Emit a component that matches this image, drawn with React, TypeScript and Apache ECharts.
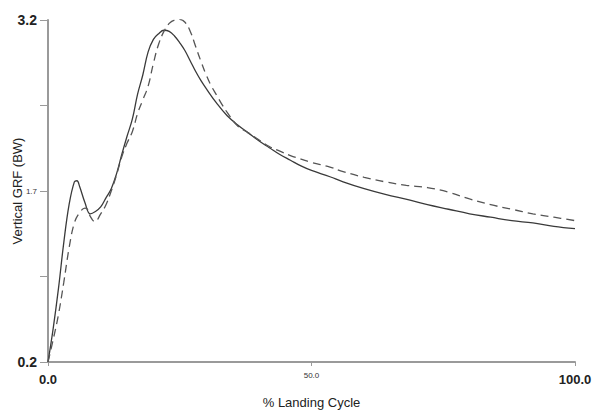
import React, { useEffect, useRef } from "react";
import * as echarts from "echarts";

const solidX = [0, 1, 2, 3, 4, 5, 5.5, 6, 7, 8, 9, 10, 11, 12, 13, 14, 15, 16, 17, 18, 19, 20, 21, 22, 23, 24, 25, 26, 27, 28, 29, 30, 32, 34, 36, 38, 40, 42, 44, 46, 48, 50, 53.5, 56, 60, 64, 68.7, 72, 76, 80, 84, 88, 92, 96, 100];
const solidY = [0.2, 0.5, 0.85, 1.25, 1.58, 1.78, 1.79, 1.74, 1.6, 1.5, 1.52, 1.56, 1.64, 1.72, 1.85, 2.02, 2.18, 2.33, 2.55, 2.72, 2.92, 3.03, 3.08, 3.11, 3.1, 3.06, 3.0, 2.93, 2.84, 2.75, 2.67, 2.6, 2.47, 2.36, 2.28, 2.21, 2.14, 2.08, 2.02, 1.97, 1.92, 1.88, 1.825, 1.78, 1.72, 1.67, 1.62, 1.58, 1.54, 1.5, 1.47, 1.44, 1.42, 1.39, 1.37];

const dashedX = [0, 1, 2, 3, 4, 5, 6, 7, 7.5, 8, 8.9, 10, 11, 12, 13, 14, 15, 16, 17, 18, 19, 20, 21, 22, 23, 24, 25, 26, 27, 28, 29, 30, 31, 32, 33, 34, 36, 38, 40, 42, 44, 46, 48, 50, 53.5, 56, 60, 64, 68, 72, 76, 80, 84, 88, 92, 96, 100];
const dashedY = [0.2, 0.4, 0.62, 0.9, 1.2, 1.42, 1.51, 1.55, 1.54, 1.48, 1.43, 1.5, 1.58, 1.7, 1.84, 2.0, 2.12, 2.22, 2.38, 2.5, 2.62, 2.82, 2.99, 3.1, 3.17, 3.2, 3.205, 3.18, 3.1, 2.97, 2.84, 2.72, 2.62, 2.54, 2.46, 2.39, 2.27, 2.21, 2.15, 2.09, 2.05, 2.01, 1.98, 1.95, 1.91, 1.87, 1.82, 1.78, 1.75, 1.73, 1.69, 1.63, 1.58, 1.54, 1.5, 1.47, 1.44];

const yTicks = [0.2, 0.95, 1.7, 2.45, 3.2];
const yLabels = [0.2, 1.7, 3.2];
const yBigLabels = [0.2, 3.2];
const xBigLabels = [0, 100];

const xName = "% Landing Cycle";
const yName = "Vertical GRF (BW)";

export default function App() {
  const ref = useRef<HTMLDivElement>(null);
  useEffect(() => {
    if (!ref.current) return;
    const chart = echarts.init(ref.current, null, { renderer: "svg" });
    const font = "Liberation Sans, Arial, sans-serif";
    const axisColor = "#9a9a9a";
    chart.setOption({
      animation: false,
      backgroundColor: "#ffffff",
      textStyle: { fontFamily: font },
      grid: { left: 48, right: 17, top: 20, bottom: 49, containLabel: false, outerBoundsMode: "none" },
      xAxis: {
        type: "value",
        min: 0,
        max: 100,
        interval: 50,
        name: xName,
        nameLocation: "middle",
        nameGap: 34,
        nameMoveOverlap: false,
        nameTextStyle: { fontSize: 13, color: "#222", fontFamily: font },
        axisLine: { show: true, lineStyle: { color: axisColor, width: 2 } },
        axisTick: { show: true, length: 4, lineStyle: { color: axisColor, width: 1 } },
        splitLine: { show: false },
        axisLabel: {
          margin: 11,
          color: "#222",
          fontFamily: font,
          formatter: (v: number) =>
            xBigLabels.includes(v) ? `{big|${v.toFixed(1)}}` : `{small|${v.toFixed(1)}}`,
          rich: {
            big: { fontSize: 13, fontWeight: "bold", color: "#222", fontFamily: font },
            small: { fontSize: 8, color: "#333", fontFamily: font, padding: [-2, 0, 0, 0] },
          },
        },
      },
      yAxis: {
        type: "value",
        min: 0.2,
        max: 3.2,
        name: yName,
        nameLocation: "middle",
        nameGap: 24,
        nameMoveOverlap: false,
        nameRotate: 90,
        nameTextStyle: { fontSize: 13, color: "#222", fontFamily: font },
        axisLine: { show: true, lineStyle: { color: axisColor, width: 2 } },
        axisTick: { show: true, length: 8, customValues: yTicks, lineStyle: { color: axisColor, width: 1 } },
        splitLine: { show: false },
        axisLabel: {
          margin: 11,
          customValues: yLabels,
          color: "#222",
          fontFamily: font,
          formatter: (v: number) => {
            const s = v.toFixed(1);
            return yBigLabels.some((b) => Math.abs(b - v) < 1e-6) ? `{big|${s}}` : `{small|${s}}`;
          },
          rich: {
            big: { fontSize: 14, fontWeight: "bold", color: "#222", fontFamily: font },
            small: { fontSize: 8, color: "#333", fontFamily: font },
          },
        },
      },
      series: [
        {
          type: "line",
          data: solidX.map((x, i) => [x, solidY[i]]),
          smooth: 0.4,
          showSymbol: false,
          lineStyle: { color: "#3a3a3a", width: 1.3, type: "solid" },
        },
        {
          type: "line",
          data: dashedX.map((x, i) => [x, dashedY[i]]),
          smooth: 0.4,
          showSymbol: false,
          lineStyle: { color: "#555555", width: 1.3, type: [8, 5] },
        },
      ],
    });
    return () => chart.dispose();
  }, []);
  return <div ref={ref} style={{ width: 592, height: 411, position: "absolute", left: 0, top: 0 }} />;
}
